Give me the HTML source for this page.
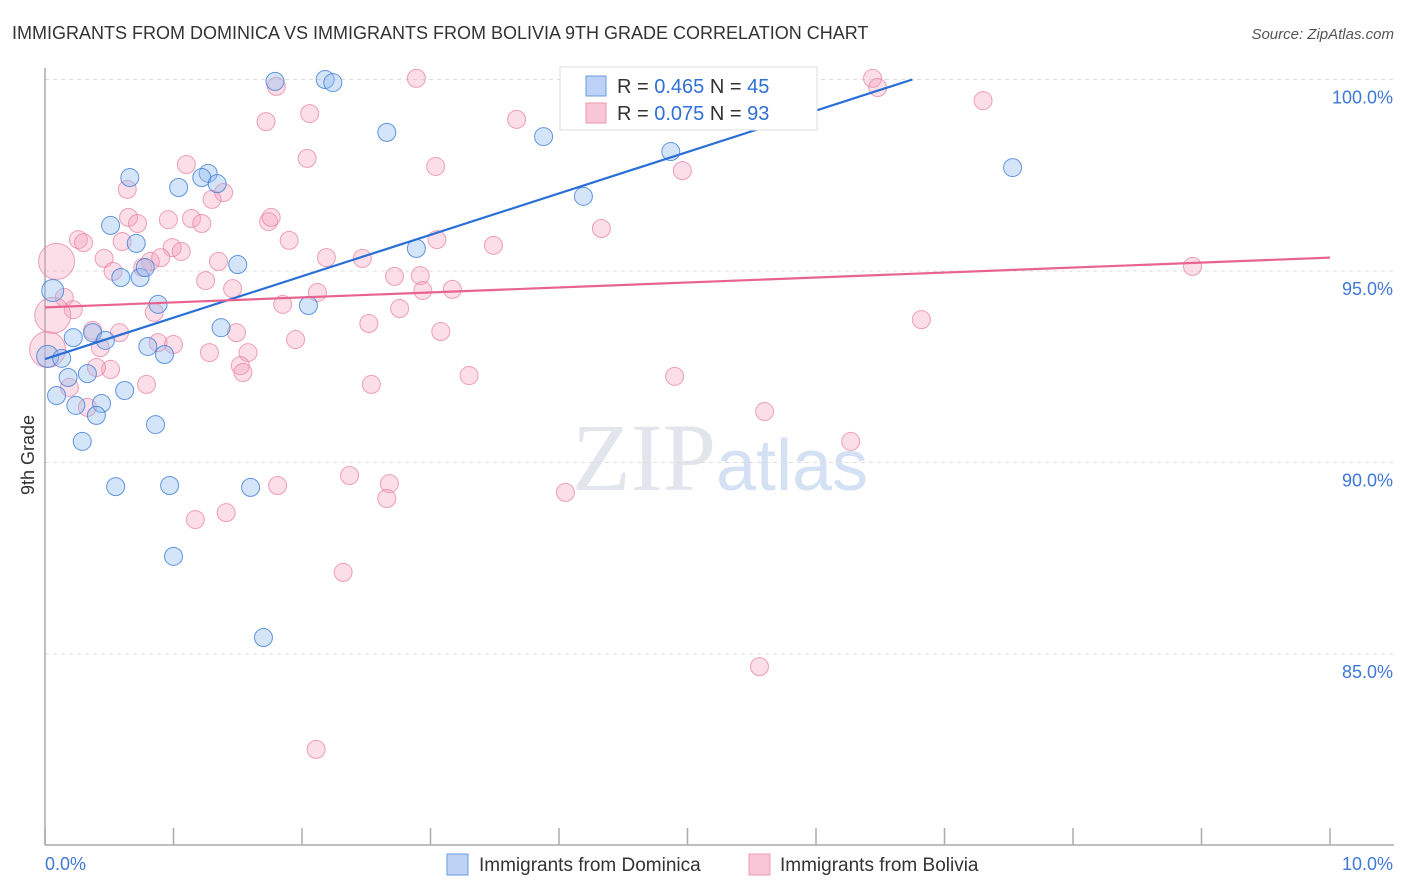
<!DOCTYPE html>
<html><head><meta charset="utf-8">
<style>
body{margin:0;background:#fff;font-family:"Liberation Sans",sans-serif;}
</style></head>
<body>
<svg id="chart" width="1406" height="892" xmlns="http://www.w3.org/2000/svg" style="display:block">
<text x="12" y="39" font-size="18" fill="#333">IMMIGRANTS FROM DOMINICA VS IMMIGRANTS FROM BOLIVIA 9TH GRADE CORRELATION CHART</text>
<text x="1394" y="39" font-size="15" fill="#555" text-anchor="end" font-style="italic">Source: ZipAtlas.com</text>
<text x="720" y="490" font-size="96" fill="#d7dbe3" text-anchor="middle" font-family="Liberation Serif" opacity="0.7">ZIP<tspan fill="#c3d3ee" font-family="Liberation Sans" font-size="72">atlas</tspan></text>
<g id="grid"></g>
<g id="axes"></g>
<g id="points"></g>
<g id="lines"></g>
<text transform="translate(34,455) rotate(-90)" font-size="18" fill="#333" text-anchor="middle">9th Grade</text>
<g>
<rect x="560" y="67" width="257" height="63" fill="#fff" stroke="#ddd"/>
<rect x="586" y="76" width="20" height="20" fill="#bcd3f5" stroke="#6a9be0"/>
<text x="617" y="93" font-size="20" fill="#333">R = <tspan fill="#2f6fd6">0.465</tspan>   N = <tspan fill="#2f6fd6">45</tspan></text>
<rect x="586" y="103" width="20" height="20" fill="#f8c6d6" stroke="#ec9ab4"/>
<text x="617" y="120" font-size="20" fill="#333">R = <tspan fill="#2f6fd6">0.075</tspan>   N = <tspan fill="#2f6fd6">93</tspan></text>
</g>
<g>
<rect x="447" y="854" width="21" height="21" fill="#bcd3f5" stroke="#6a9be0"/>
<text x="479" y="871" font-size="19" fill="#333">Immigrants from Dominica</text>
<rect x="749" y="854" width="21" height="21" fill="#f8c6d6" stroke="#ec9ab4"/>
<text x="780" y="871" font-size="19" fill="#333">Immigrants from Bolivia</text>
</g>
</svg>
<script>
const yTicks=[100,95,90,85];
const yTickLabels=["100.0%","95.0%","90.0%","85.0%"];
const xTicks=[0,1,2,3,4,5,6,7,8,9,10];
const xEndLabels=["0.0%","10.0%"];
const blueX=[1.79,2.18,2.24,2.66,3.88,4.87,4.19,7.53,0.66,1.04,1.27,1.22,1.34,0.51,0.71,0.59,0.74,0.78,1.50,2.89,0.88,2.05,0.06,0.22,0.37,0.47,0.80,0.93,1.37,0.02,0.13,0.18,0.33,0.62,0.09,0.24,0.44,0.40,0.86,0.29,0.55,0.97,1.60,1.00,1.70];
const blueY=[99.95,100.0,99.92,98.62,98.51,98.12,96.95,97.70,97.44,97.18,97.55,97.44,97.28,96.19,95.72,94.83,94.83,95.09,95.17,95.59,94.13,94.10,94.49,93.26,93.39,93.19,93.03,92.82,93.52,92.77,92.72,92.22,92.32,91.88,91.75,91.49,91.54,91.23,90.99,90.55,89.37,89.40,89.35,87.55,85.43];
const pinkX=[2.89,1.80,4.09,6.44,6.48,7.30,2.06,1.72,3.67,2.04,3.04,4.96,1.10,0.64,1.39,1.30,0.65,0.72,0.96,1.14,1.22,1.74,1.76,0.26,0.30,0.60,1.90,3.05,3.49,4.33,0.09,0.46,0.99,1.06,0.82,0.90,1.35,0.53,0.76,2.19,2.47,2.72,2.92,1.25,1.46,0.15,0.22,1.85,2.12,2.76,2.94,3.17,0.85,8.93,6.82,0.06,0.37,0.58,1.49,2.52,3.08,0.43,0.88,1.00,1.28,1.58,1.95,0.51,0.40,1.52,1.54,0.79,0.19,3.30,2.54,4.90,5.60,6.27,2.37,1.81,2.68,2.66,4.05,1.17,1.41,2.32,5.56,2.11,0.02,0.33];
const pinkY=[100.03,99.82,100.03,100.03,99.79,99.45,99.11,98.90,98.96,97.94,97.73,97.62,97.78,97.13,97.05,96.87,96.40,96.24,96.34,96.37,96.24,96.29,96.40,95.82,95.74,95.77,95.80,95.82,95.67,96.11,95.25,95.33,95.61,95.51,95.25,95.35,95.25,94.99,95.09,95.35,95.33,94.86,94.88,94.75,94.54,94.31,93.99,94.13,94.44,94.02,94.49,94.52,93.92,95.12,93.73,93.84,93.45,93.39,93.39,93.63,93.42,93.00,93.13,93.08,92.87,92.87,93.21,92.43,92.48,92.53,92.35,92.04,91.96,92.27,92.04,92.25,91.33,90.55,89.66,89.40,89.45,89.06,89.22,88.51,88.69,87.13,84.67,82.51,92.95,91.44];
const pinkBig=[30,55,88];
const blueBig=[22,29];
const blueTrend=[[0,92.7],[6.75,100.0]];
const pinkTrend=[[0,94.05],[10,95.35]];

const NS="http://www.w3.org/2000/svg";
const X0=45,X1=1330,Y100=79.5,PER=38.3;
function sx(v){return X0+(X1-X0)*v/10;}
function sy(v){return Y100+(100-v)*PER;}
function mk(tag,attrs,parent){const e=document.createElementNS(NS,tag);for(const k in attrs)e.setAttribute(k,attrs[k]);document.getElementById(parent).appendChild(e);return e;}

yTicks.forEach((t,i)=>{
  const l=mk('line',{x1:X0,x2:1394,y1:sy(t),y2:sy(t),stroke:'#ddd','stroke-dasharray':'4,4'},'grid');
  
  
  const tx=mk('text',{x:1393,y:sy(t)+24,'font-size':18,fill:'#3f78d8','text-anchor':'end'},'axes');
  tx.textContent=yTickLabels[i];
  
  
});
const ya=mk('line',{x1:X0,x2:X0,y1:68,y2:845,stroke:'#aaa','stroke-width':1.5},'axes');


const xa=mk('line',{x1:X0,x2:1394,y1:845,y2:845,stroke:'#aaa','stroke-width':1.5},'axes');


xTicks.forEach(t=>{
  const l=mk('line',{x1:sx(t),x2:sx(t),y1:828,y2:845,stroke:'#aaa','stroke-width':1.5},'axes');
  
  
});
const xl0=mk('text',{x:45,y:870,'font-size':18,fill:'#3f78d8'},'axes');
xl0.textContent=xEndLabels[0];


const xl1=mk('text',{x:1393,y:870,'font-size':18,fill:'#3f78d8','text-anchor':'end'},'axes');
xl1.textContent=xEndLabels[1];



pinkX.forEach((v,i)=>{
  const c=mk('circle',{cx:sx(v),cy:sy(pinkY[i]),r:pinkBig.includes(i)?18:9,fill:'rgba(244,160,188,0.35)',stroke:'rgba(232,130,165,0.75)','stroke-width':1},'points');
  
  
});
blueX.forEach((v,i)=>{
  const c=mk('circle',{cx:sx(v),cy:sy(blueY[i]),r:blueBig.includes(i)?11:9,fill:'rgba(150,190,240,0.4)',stroke:'rgba(60,125,215,0.8)','stroke-width':1},'points');
  
  
});
const bl=mk('line',{x1:sx(blueTrend[0][0]),y1:sy(blueTrend[0][1]),x2:sx(blueTrend[1][0]),y2:sy(blueTrend[1][1]),stroke:'#2a6fd6','stroke-width':2.2},'lines');


const pl=mk('line',{x1:sx(pinkTrend[0][0]),y1:sy(pinkTrend[0][1]),x2:sx(pinkTrend[1][0]),y2:sy(pinkTrend[1][1]),stroke:'#e8648f','stroke-width':2.2},'lines');


</script>
</body></html>
